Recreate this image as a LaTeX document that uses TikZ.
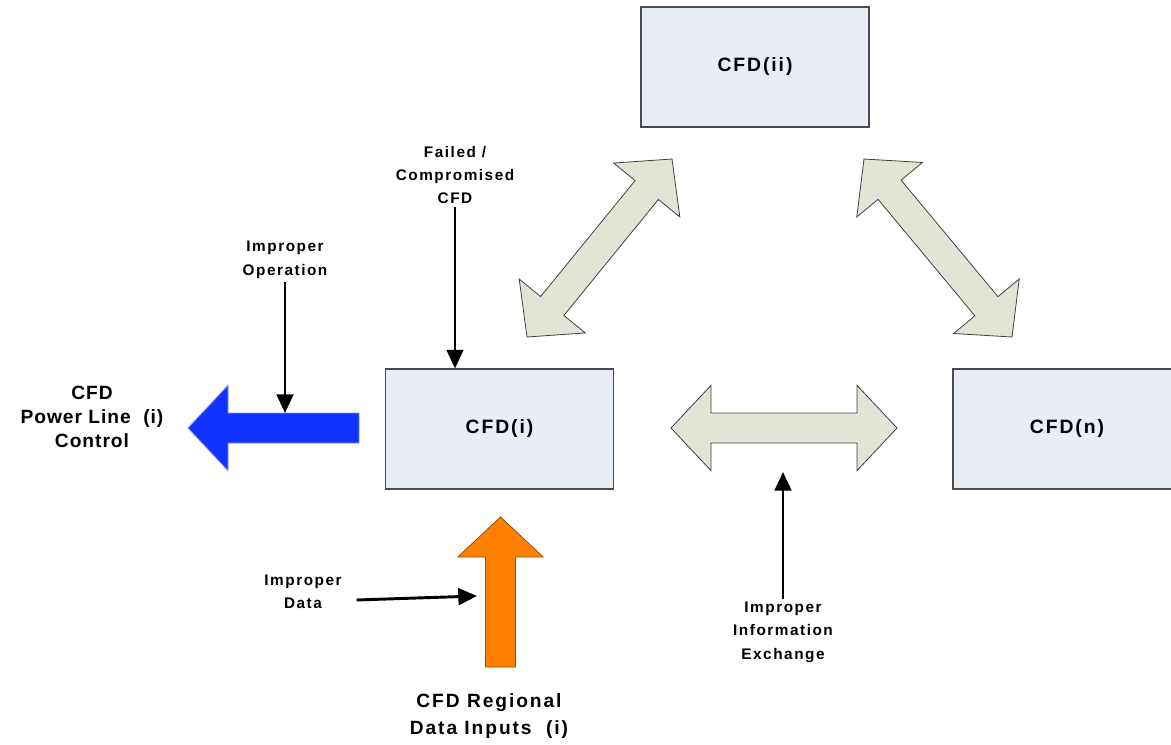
\documentclass[tikz,border=0pt]{standalone}
\usepackage{fontspec}
\setmainfont{Liberation Sans}[LetterSpace=10]
\newfontfamily\ctrlfont{Liberation Sans}[LetterSpace=5]
\usetikzlibrary{calc,arrows.meta}

\definecolor{boxfill}{RGB}{233,237,245}
\definecolor{linkfill}{RGB}{226,229,213}
\definecolor{ctrlblue}{RGB}{18,50,255}
\definecolor{inorange}{RGB}{255,128,0}

% sizes of the fat arrows
\newcommand\headlen{30pt}
\newcommand\headhw{32pt}
\newcommand\bodyhw{11.25pt}

% fat single arrow: style, tail, tip
\newcommand\fatsingle[3]{%
  \coordinate (hb) at ($(#3)!\headlen!(#2)$);
  \draw[#1] (#3) -- ($(hb)!\headhw!90:(#3)$) -- ($(hb)!\bodyhw!90:(#3)$)
    -- ($(#2)!\bodyhw!90:(hb)$) -- ($(#2)!\bodyhw!-90:(hb)$)
    -- ($(hb)!\bodyhw!-90:(#3)$) -- ($(hb)!\headhw!-90:(#3)$) -- cycle;
}
% fat double arrow: style, tip a, tip b
\newcommand\fatdouble[3]{%
  \coordinate (ha) at ($(#2)!\headlen!(#3)$);
  \coordinate (hb) at ($(#3)!\headlen!(#2)$);
  \draw[#1] (#2) -- ($(ha)!\headhw!90:(#3)$) -- ($(ha)!\bodyhw!90:(#3)$)
    -- ($(hb)!\bodyhw!-90:(#2)$) -- ($(hb)!\headhw!-90:(#2)$) -- (#3)
    -- ($(hb)!\headhw!90:(#2)$) -- ($(hb)!\bodyhw!90:(#2)$)
    -- ($(ha)!\bodyhw!-90:(#3)$) -- ($(ha)!\headhw!-90:(#3)$) -- cycle;
}

\tikzset{
  cfdbox/.style={draw=black!70, line width=0.8pt, fill=boxfill,
    minimum width=171pt, minimum height=90pt,
    font=\fontsize{14.5}{17}\selectfont\bfseries},
  smalllbl/.style={align=center, inner sep=2pt,
    font=\fontsize{11.5}{17.6}\selectfont\bfseries},
  biglbl/.style={align=center, inner sep=2pt,
    font=\fontsize{14.4}{18}\selectfont\bfseries},
  linkarrow/.style={fill=linkfill, draw=black!75, line width=0.6pt},
  fault/.style={-{Triangle[length=14pt,width=12.5pt]}, line width=2.2pt},
}

\begin{document}
\begin{tikzpicture}[x=0.75pt, y=-0.75pt]
  \useasboundingbox (0,0) rectangle (1171,745);

  % the three CFDs
  \node[cfdbox] (cfdi) at (499.5,429) {CFD(i)};
  \node[cfdbox] (cfdii) at (755,67) {CFD(ii)};
  \node[cfdbox] (cfdn) at (1067,429) {CFD(n)};

  % outputs and inputs
  \node[biglbl, font=\fontsize{14.4}{18}\selectfont\ctrlfont\bfseries] (ctrl) at (92,417) {CFD\\Power Line\ \ (i)\\Control};
  \node[biglbl, font=\fontsize{14.4}{20}\selectfont\bfseries] (inputs) at (489,716) {CFD Regional\\Data Inputs\ \ (i)};

  % fault labels
  \node[smalllbl] (failed) at (455,175) {Failed /\\Compromised\\CFD};
  \node[smalllbl] (oper) at (285,260) {Improper\\Operation};
  \node[smalllbl] (baddata) at (303,592) {Improper\\Data};
  \node[smalllbl] (infoex) at (783,632) {Improper\\Information\\Exchange};

  % ends of the fat arrows
  \coordinate (ctrltail) at (359,428);
  \coordinate (ctrltip) at (188,428);
  \coordinate (intail) at (500.5,667);
  \coordinate (intip) at (500.5,517);
  \coordinate (htipa) at (671,428);
  \coordinate (htipb) at (897,428);
  \coordinate (ltipa) at (527,337);
  \coordinate (ltipb) at (672,159);
  \coordinate (rtipa) at (864,159);
  \coordinate (rtipb) at (1012,337);

  \fatsingle{fill=ctrlblue, draw=ctrlblue!55!white, line width=0.6pt}{ctrltail}{ctrltip}
  \fatsingle{fill=inorange, draw=inorange!60!black, line width=0.6pt}{intail}{intip}
  \fatdouble{linkarrow}{htipa}{htipb}
  \fatdouble{linkarrow}{ltipa}{ltipb}
  \fatdouble{linkarrow}{rtipa}{rtipb}

  % where the faults hit
  \coordinate (optip) at (285,413);
  \coordinate (dataend) at (477,596);
  \coordinate (infoend) at (783,472);

  \draw[fault] (failed.south) -- (failed.south |- cfdi.north);
  \draw[fault] (oper) -- (optip);
  \draw[fault] ([shift={(12,8)}]baddata.east) -- (dataend);
  \draw[fault] (infoex) -- (infoend);
\end{tikzpicture}
\end{document}
